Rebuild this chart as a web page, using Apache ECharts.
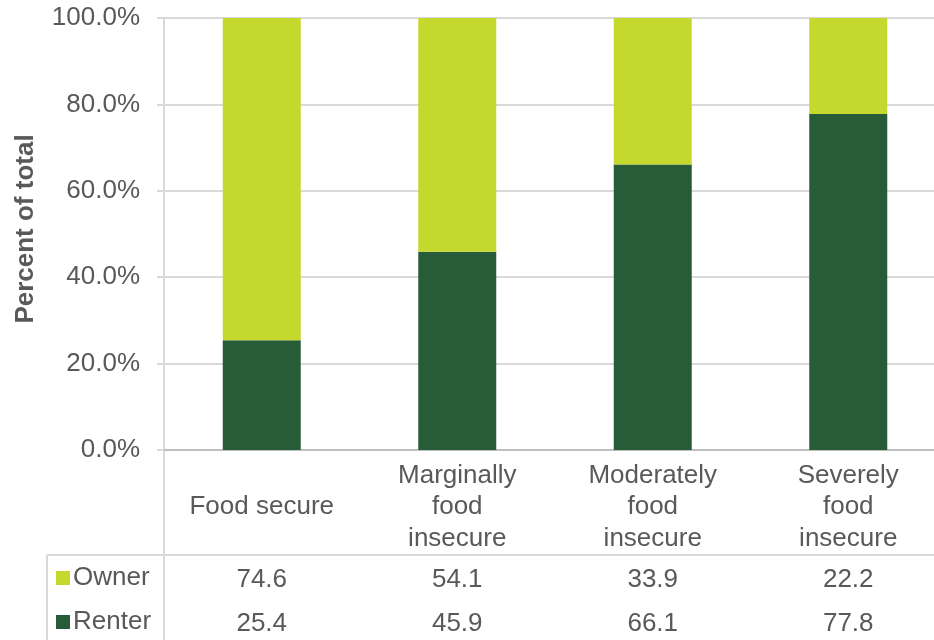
<!DOCTYPE html>
<html>
<head>
<meta charset="utf-8">
<title>Housing tenure by household food security status</title>
<script src="https://cdn.jsdelivr.net/npm/echarts@6/dist/echarts.min.js"></script>
<style>
  html, body { margin: 0; padding: 0; background: #ffffff; }
  #chart { width: 934px; height: 640px; }
</style>
</head>
<body>
<div id="chart"></div>
<script>
// Food security status categories and the wrapped labels shown under the axis
const categories = ['Food secure', 'Marginally food insecure', 'Moderately food insecure', 'Severely food insecure'];
const categoryLabels = ['Food secure', 'Marginally\nfood\ninsecure', 'Moderately\nfood\ninsecure', 'Severely\nfood\ninsecure'];

// Share of households (percent of total) by tenure
const ownerValues = [74.6, 54.1, 33.9, 22.2];
const renterValues = [25.4, 45.9, 66.1, 77.8];

// Value axis ticks
const yTicks = [0, 20, 40, 60, 80, 100];

const FONT = "'Liberation Sans', Arial, Helvetica, sans-serif";
const TEXT = '#595959';
const GRID = '#d9d9d9';
const OWNER = '#c4d82e';
const RENTER = '#285b38';

const chart = echarts.init(document.getElementById('chart'), null, { renderer: 'canvas' });

const fmt = v => v.toFixed(1);

const option = {
  backgroundColor: '#ffffff',
  animation: false,
  textStyle: { fontFamily: FONT },
  // The plot area runs a little past the right edge of the canvas
  grid: { left: 164, width: 782, top: 18, height: 432, containLabel: false, outerBoundsMode: 'none' },
  legend: {
    orient: 'vertical',
    left: 56,
    top: 563,
    padding: 0,
    height: 77,
    itemWidth: 14,
    itemHeight: 14,
    itemGap: 14,
    icon: 'rect',
    data: ['Owner', 'Renter'],
    textStyle: { fontFamily: FONT, fontSize: 26, color: TEXT, lineHeight: 30, padding: [0, 0, 0, -2] }
  },
  xAxis: [
    {
      type: 'category',
      position: 'bottom',
      data: categories,
      axisLine: { show: true, lineStyle: { color: '#bfbfbf', width: 2 } },
      axisTick: { show: false },
      axisLabel: {
        interval: 0,
        margin: 57,
        verticalAlign: 'middle',
        fontFamily: FONT,
        fontSize: 26,
        lineHeight: 31.5,
        color: TEXT,
        formatter: (v, i) => categoryLabels[i]
      }
    },
    {
      // Owner row of the data table
      type: 'category',
      position: 'bottom',
      data: ownerValues.map(fmt),
      axisLine: { show: false },
      axisTick: { show: false },
      axisLabel: { interval: 0, margin: 130, verticalAlign: 'middle', fontFamily: FONT, fontSize: 26, color: TEXT }
    },
    {
      // Renter row of the data table
      type: 'category',
      position: 'bottom',
      data: renterValues.map(fmt),
      axisLine: { show: false },
      axisTick: { show: false },
      axisLabel: { interval: 0, margin: 174, verticalAlign: 'middle', fontFamily: FONT, fontSize: 26, color: TEXT }
    }
  ],
  yAxis: {
    type: 'value',
    min: yTicks[0],
    max: yTicks[yTicks.length - 1],
    interval: yTicks[1] - yTicks[0],
    name: 'Percent of total',
    nameLocation: 'middle',
    nameRotate: 90,
    nameGap: 125,
    nameTextStyle: { fontFamily: FONT, fontSize: 26, fontWeight: 'bold', color: TEXT, padding: [0, 0, 0, 10] },
    axisLine: { show: true, lineStyle: { color: GRID, width: 2 } },
    axisTick: { show: true, length: 7, lineStyle: { color: GRID, width: 2 } },
    splitLine: { show: true, lineStyle: { color: GRID, width: 2 } },
    axisLabel: {
      margin: 24,
      fontFamily: FONT,
      fontSize: 26,
      color: TEXT,
      formatter: v => v.toFixed(1) + '%'
    }
  },
  series: [
    {
      name: 'Renter',
      type: 'bar',
      stack: 'tenure',
      xAxisIndex: 0,
      barWidth: 78,
      itemStyle: { color: RENTER },
      data: renterValues
    },
    {
      name: 'Owner',
      type: 'bar',
      stack: 'tenure',
      xAxisIndex: 0,
      barWidth: 78,
      itemStyle: { color: OWNER },
      data: ownerValues
    }
  ],
  // Data table borders below the plot
  graphic: [
    { type: 'line', silent: true, shape: { x1: 164, y1: 450, x2: 164, y2: 640 }, style: { stroke: GRID, lineWidth: 2 } },
    { type: 'line', silent: true, shape: { x1: 47, y1: 555, x2: 934, y2: 555 }, style: { stroke: GRID, lineWidth: 2 } },
    { type: 'line', silent: true, shape: { x1: 47, y1: 555, x2: 47, y2: 640 }, style: { stroke: GRID, lineWidth: 2 } }
  ]
};

chart.setOption(option);
</script>
</body>
</html>
